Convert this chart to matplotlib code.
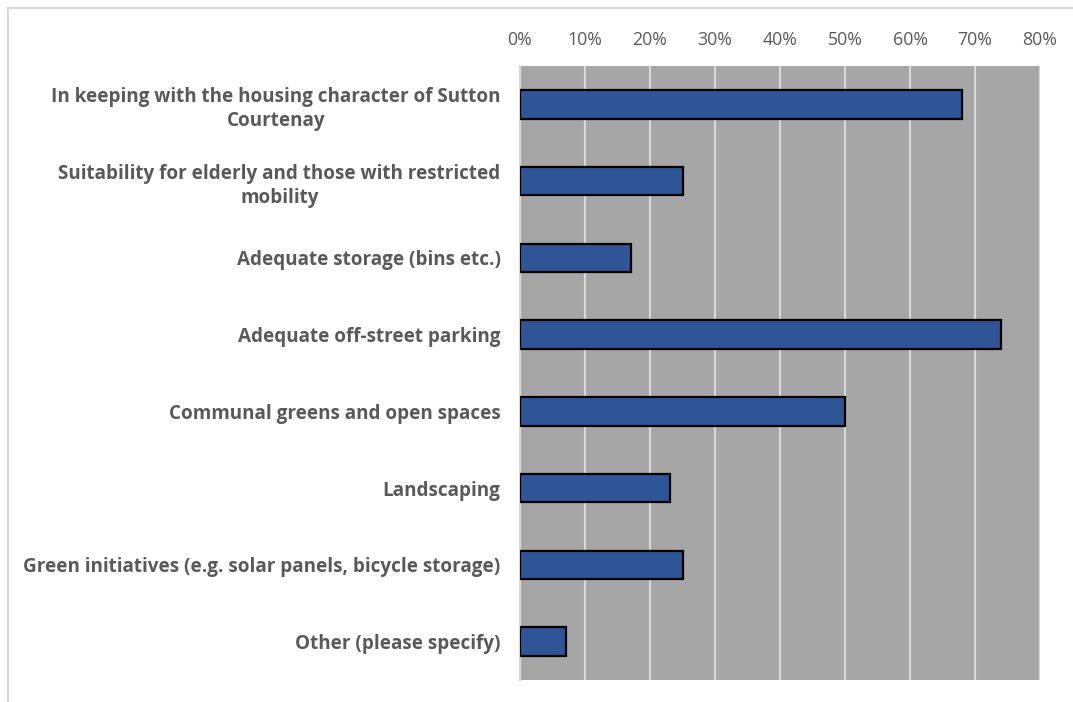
import matplotlib.pyplot as plt
from matplotlib.lines import Line2D
import numpy as np

categories = [
    "In keeping with the housing character of Sutton\nCourtenay",
    "Suitability for elderly and those with restricted\nmobility",
    "Adequate storage (bins etc.)",
    "Adequate off-street parking",
    "Communal greens and open spaces",
    "Landscaping",
    "Green initiatives (e.g. solar panels, bicycle storage)",
    "Other (please specify)",
]
values = [68, 25, 17, 74, 50, 23, 25, 7]
ticks = [0, 10, 20, 30, 40, 50, 60, 70, 80]
tick_labels = [f"{t}%" for t in ticks]

plt.rcParams['font.family'] = ['Open Sans', 'DejaVu Sans']

fig = plt.figure(figsize=(10.73, 7.02), dpi=100)
W, H = 1073, 702
# plot area in pixels: left 520, right 1040, top 66, bottom 680
ax = fig.add_axes([520 / W, 1 - 680 / H, 520 / W, (680 - 66) / H])

y = np.arange(len(categories))
ax.set_facecolor("#A6A6A6")
ax.barh(y, values, height=0.37, color="#2F5597", edgecolor="black", linewidth=1.6, zorder=3)
ax.set_xlim(0, 80)
ax.set_ylim(len(categories) - 0.5, -0.5)

ax.set_xticks(ticks)
ax.set_xticklabels(tick_labels)
ax.xaxis.tick_top()
ax.tick_params(axis="x", length=0, pad=12, labelsize=12.8, colors="#595959")
ax.grid(axis="x", color="#D9D9D9", linewidth=1.5, zorder=1)

ax.set_yticks(y)
ax.set_yticklabels(categories, fontweight="bold", fontsize=13.6, color="#595959", ha="right",
                   multialignment="center", linespacing=1.3)
ax.tick_params(axis="y", length=0, pad=14)

for s in ax.spines.values():
    s.set_visible(False)
ax.spines["left"].set_visible(True)
ax.spines["left"].set_color("#D9D9D9")
ax.spines["left"].set_linewidth(1.5)

# outer chart border (top and left visible)
fig.add_artist(Line2D([8 / W, 1], [1 - 8 / H, 1 - 8 / H], color="#D9D9D9", lw=1.5))
fig.add_artist(Line2D([8 / W, 8 / W], [0, 1 - 8 / H], color="#D9D9D9", lw=1.5))

fig.savefig("out.png", dpi=100)
